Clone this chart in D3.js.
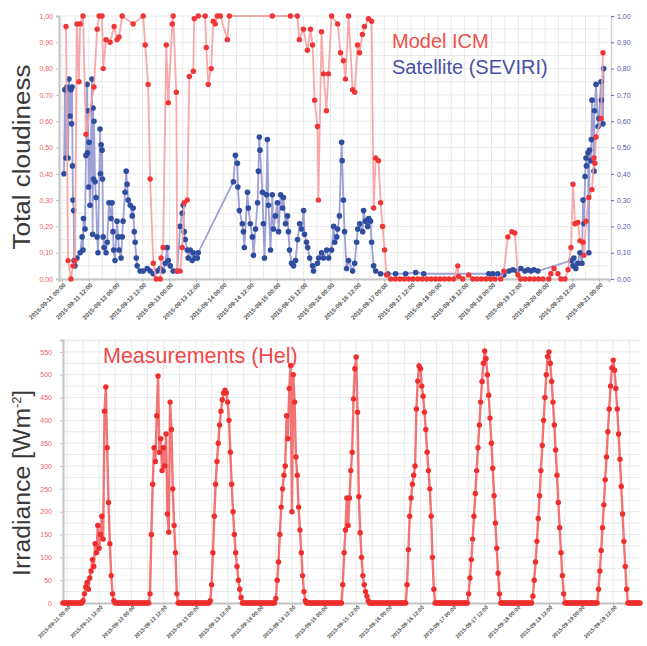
<!DOCTYPE html>
<html><head><meta charset="utf-8">
<script src="https://cdn.jsdelivr.net/npm/d3@7"></script>
<style>
body{margin:0;background:#fff}
svg{display:block}
text{font-family:"Liberation Sans",Arial,Helvetica,sans-serif}
</style>
</head><body>
<svg id="c" width="647" height="646"></svg>
<script>
// ---------- DATA ----------
// Top chart: hours after 2015-09-11 00:00 UTC, total cloudiness
const icmModel = [[1.8,.96],[2.7,.07],[4.0,0],[4.9,.05],[5.8,.07],[6.7,.97],[7.6,.75],[8.1,.97],[9.4,1],[10.7,.55],[14.3,.73],[15.7,.95],[16.6,1],[17.9,1],[18.4,.80],[19.7,.91],[21.5,.90],[23.3,.96],[24.6,.91],[25.5,.92],[26.9,1],[31.8,.97],[36.3,1],[37.2,.89],[38.5,.74],[39.4,.38],[40.8,.06],[42.1,0],[43.9,0],[44.3,.08],[45.2,.12],[46.6,.89],[47.5,.67],[49.3,.97],[49.7,1],[51.1,.71],[51.5,.03],[52.8,.03],[53.7,.12],[54.6,.29],[56.0,.30],[56.9,.77],[58.7,.79],[59.1,.99],[60.9,1],[64.0,1],[64.5,.88],[65.4,.74],[66.7,.80],[67.6,.98],[68.5,.97],[69.4,1],[70.8,1],[73.9,.91],[74.8,1],[94.0,1],[102.1,1],[105.2,1],[106.1,.91],[107.9,.95],[109.7,.87],[111.1,.95],[112.0,.89],[112.9,.68],[114.2,.58],[114.6,.30],[116.0,.94],[116.9,.78],[118.2,.64],[119.1,.78],[120.5,1],[123.2,.97],[124.5,.86],[125.8,.83],[126.7,.76],[128.1,1],[129.9,.72],[130.8,.71],[132.1,.89],[133.0,.86],[134.3,.93],[135.2,.96],[137.0,.99],[138.4,.98],[139.3,.27],[140.2,.46],[141.5,.45],[142.4,.29],[143.3,.20],[144.2,.11],[145.1,.015],[146.9,0],[149,0],[151,0],[153,0],[155,0],[157,0],[159,0],[161,0],[163,0],[165,0],[167,0],[169,0],[171,0],[173,0],[175.1,0],[176.9,.05],[177.3,.01],[179.1,0],[181.8,.015],[183.6,0],[185.5,0],[187.5,0],[189.5,0],[191.5,0],[193.5,0],[196.1,0],[197.5,.03],[199.3,.16],[201.1,.18],[202.4,.175],[203.8,.015],[205.1,0],[207,0],[209,0],[211,0],[213,0],[215,0],[217.6,0],[218.5,.02],[219.9,.04],[221.7,.02],[223.0,0],[224.8,0],[226.2,.035],[227.5,.12],[228.4,.36],[229.3,.21],[230.6,.215],[231.5,.145],[232.9,.14],[233.3,.09],[234.2,.22],[235.5,.31],[236.9,.34],[237.8,.46],[238.2,.44],[238.7,.54],[240.9,.61],[241.8,.86]];

const seviri = [[0.9,.40],[1.3,.72],[1.8,.46],[2.2,.73],[2.7,.46],[3.1,.76],[3.6,.62],[4.0,.72],[4.3,.59],[4.5,.73],[4.7,.43],[4.9,.30],[5.2,.26],[5.4,.07],[5.8,.05],[6.7,.08],[8.1,.10],[9.0,.16],[9.4,.11],[9.6,.23],[10.3,.19],[10.7,.47],[11.2,.74],[11.4,.48],[11.6,.64],[11.9,.35],[12.1,.52],[12.5,.28],[13.4,.76],[13.7,.17],[13.9,.65],[14.1,.38],[14.3,.60],[14.8,.37],[15.2,.31],[15.7,.16],[16.1,.10],[17.0,.57],[17.2,.40],[17.5,.51],[17.9,.49],[18.1,.38],[18.4,.16],[18.8,.12],[19.7,.10],[20.2,.14],[21.0,.29],[21.9,.23],[22.4,.29],[22.8,.18],[23.1,.11],[23.7,.07],[24.6,.22],[25.1,.16],[25.5,.11],[26.4,.08],[26.9,.16],[27.3,.22],[28.2,.33],[28.7,.41],[29.1,.36],[29.6,.30],[30.5,.28],[31.4,.24],[31.8,.27],[32.3,.18],[32.7,.14],[33.2,.08],[33.6,.05],[34.9,.03],[36.3,.03],[38.1,.04],[39.4,.03],[40.8,.02],[42.6,.03],[43.9,.04],[45.2,.03],[46.1,.06],[47.0,.12],[47.5,.07],[48.4,.05],[49.7,.03],[51.5,.03],[52.8,.20],[53.7,.25],[54.2,.28],[54.6,.18],[55.1,.15],[56.0,.11],[56.4,.08],[57.3,.11],[58.2,.07],[58.7,.10],[59.6,.08],[60.5,.08],[60.9,.10],
[76.6,.37],[77.5,.47],[78.4,.44],[78.6,.35],[79.3,.26],[80.6,.21],[81.1,.18],[81.5,.12],[82.9,.33],[83.3,.27],[84.2,.21],[85.1,.16],[85.6,.09],[86.5,.19],[87.4,.29],[87.8,.41],[88.2,.54],[88.5,.49],[89.6,.33],[90.0,.21],[90.5,.08],[91.4,.32],[91.8,.53],[92.3,.28],[93.2,.11],[94.0,.32],[94.5,.19],[95.4,.24],[96.3,.29],[96.8,.18],[97.7,.32],[98.6,.27],[99.0,.31],[99.9,.21],[100.8,.24],[101.2,.18],[101.7,.11],[102.6,.06],[103.5,.05],[104.4,.07],[105.3,.15],[106.2,.21],[107.1,.19],[108.0,.26],[108.4,.17],[109.3,.14],[109.8,.12],[110.7,.08],[112.0,.05],[112.4,.03],[114.2,.06],[114.7,.08],[116.0,.10],[116.9,.08],[118.3,.11],[119.2,.08],[120.5,.11],[121.4,.20],[121.9,.14],[122.8,.16],[123.2,.19],[124.0,.24],[125.0,.52],[125.2,.45],[125.8,.30],[126.3,.18],[127.2,.04],[128.1,.07],[129.9,.03],[130.8,.06],[131.7,.14],[132.2,.19],[133.1,.21],[134.4,.18],[134.8,.26],[135.7,.22],[136.6,.20],[137.1,.23],[137.9,.22],[138.4,.14],[139.3,.05],[140.2,.03],[142.4,.02],[145.6,.02],[149.1,.02],[153.6,.02],[158.1,.025],[161.7,.02],
[190.8,.02],[192.6,.02],[194.8,.02],[197.5,.015],[199.8,.03],[201.5,.035],[203.3,.03],[205.1,.04],[206.9,.03],[208.3,.035],[209.6,.03],[210.9,.035],[212.7,.03],
[227.5,.07],[228.4,.05],[228.8,.08],[229.7,.04],[230.6,.06],[231.5,.10],[232.4,.06],[232.9,.30],[233.3,.21],[233.8,.39],[234.2,.46],[234.4,.43],[235.1,.48],[235.5,.10],[235.8,.49],[236.4,.45],[236.6,.53],[236.9,.68],[237.8,.41],[238.0,.64],[238.7,.74],[239.6,.58],[240.0,.61],[240.9,.75],[241.1,.68],[241.8,.59],[242.1,.80]];

// Bottom chart: irradiance [W m-2] every 30 min, one array per day (from 00:00 UTC)
const irr0910 = [0,0,0]; // from 22:30
const irr0911 = [0,0,0,0,0,0,0,0,0,0,0,0, 5,20,35,45,30,55,70,95,80,130,110,170,120,150,190,140,420,473,340,220,130,60,20,5, 0,0,0,0,0,0,0,0,0,0,0,0];
const irr0912 = [0,0,0,0,0,0,0,0,0,0,0,0,0,0, 20,150,260,340,310,410,497,330,360,290,340,300,370,195,155,440,380,250,170,110,20,0, 0,0,0,0,0,0,0,0,0,0,0,0];
const irr0913 = [0,0,0,0,0,0,0,0,0,0,0, 5,40,110,190,260,310,350,390,420,445,460,466,460,440,400,330,260,200,150,110,80,50,30,12,0, 0,0,0,0,0,0,0,0,0,0,0,0];
const irr0914 = [0,0,0,0,0,0,0,0,0,0,0,0, 10,50,90,150,210,250,280,300,410,360,470,520,200,500,440,320,280,210,160,110,60,25,5,0, 0,0,0,0,0,0,0,0,0,0,0,0];
const irr0915 = [0,0,0,0,0,0,0,0,0,0,0,0,0, 0,40,110,160,230,170,230,290,330,447,513,539,418,233,154,100,60,40,25,15,5,0, 0,0,0,0,0,0,0,0,0,0,0,0,0];
const irr0916 = [0,0,0,0,0,0,0,0,0,0,0,0,0, 0,40,117,190,230,260,280,300,425,486,519,513,475,453,418,380,330,290,250,190,100,30,0, 0,0,0,0,0,0,0,0,0,0,0,0];
const irr0917 = [0,0,0,0,0,0,0,0,0,0,0, 0,20,55,95,140,190,240,290,340,390,440,485,525,552,535,500,455,405,350,295,235,175,120,65,20,0, 0,0,0,0,0,0,0,0,0,0,0];
const irr0918 = [0,0,0,0,0,0,0,0,0,0,0, 0,15,50,90,135,185,235,290,345,400,450,500,540,550,525,485,440,390,335,280,220,165,110,60,20,0, 0,0,0,0,0,0,0,0,0,0,0];
const irr0919 = [0,0,0,0,0,0,0,0,0,0,0,0, 0,30,70,115,165,215,270,320,375,425,475,515,532,510,470,425,370,315,255,195,135,80,30,0, 0,0,0,0,0,0,0,0,0,0,0,0];

const cloudTicks = [0,0.1,0.2,0.3,0.4,0.5,0.6,0.7,0.8,0.9,1.0];
const irrTicks = [0,50,100,150,200,250,300,350,400,450,500,550];
const legendTop = ["Model ICM", "Satellite (SEVIRI)"];
const legendBottom = "Measurements (Hel)";

// ---------- BUILD ----------
const H = 3600e3;
const t0 = Date.UTC(2015,8,11,0,0);
const toDate = h => new Date(t0 + h*H);
const svg = d3.select("#c");

const RED = "#ef3535", RED_L = "#f6a0a0", BLUE = "#2f4c9f", BLUE_L = "#8c91cf";
const fmtComma = d => d3.format(".2f")(d).replace(".", ",");
const fmtDate = d3.utcFormat("%Y-%m-%d %H:%M");

// ===== TOP CHART =====
const tTop = {l:59, r:609, t:16, b:279};
const xTop = d3.scaleUtc().domain([toDate(-1.34), toDate(244.5)]).range([tTop.l, tTop.r]);
const yTop = d3.scaleLinear().domain([0,1]).range([tTop.b, tTop.t]);

const gT = svg.append("g");
gT.append("g").selectAll("line").data(d3.range(0,1.0001,0.05)).join("line")
  .attr("x1",tTop.l).attr("x2",tTop.r).attr("y1",d=>yTop(d)).attr("y2",d=>yTop(d))
  .attr("stroke","#e9e9e9").attr("stroke-width",1);
gT.append("g").selectAll("line").data(d3.utcHour.every(6).range(toDate(0), toDate(244.6))).join("line")
  .attr("x1",d=>xTop(d)).attr("x2",d=>xTop(d)).attr("y1",tTop.t).attr("y2",tTop.b)
  .attr("stroke","#e9e9e9").attr("stroke-width",1);

const axL = gT.append("g").attr("transform",`translate(${tTop.l},0)`)
  .call(d3.axisLeft(yTop).tickValues(cloudTicks).tickFormat(fmtComma).tickSize(3));
axL.select(".domain").attr("stroke","#c4c4c4").attr("stroke-width",2);
axL.selectAll(".tick line").attr("stroke","#c4c4c4");
axL.selectAll("text").attr("fill","#f06060").attr("font-size",7).attr("x",-6);

const axR = gT.append("g").attr("transform",`translate(${tTop.r+2},0)`)
  .call(d3.axisRight(yTop).tickValues(cloudTicks).tickFormat(fmtComma).tickSize(3));
axR.select(".domain").attr("stroke","#d0d0d0").attr("stroke-width",1.5);
axR.selectAll(".tick line").attr("stroke","#6068b0");
axR.selectAll("text").attr("fill","#5058a8").attr("font-size",7).attr("x",6);

const axB = gT.append("g").attr("transform",`translate(0,${tTop.b})`)
  .call(d3.axisBottom(xTop).tickValues(d3.utcHour.every(12).range(toDate(0), toDate(240.1))).tickFormat(fmtDate).tickSize(3));
axB.select(".domain").attr("stroke","#c4c4c4").attr("stroke-width",2);
axB.selectAll(".tick line").attr("stroke","#bbb");
axB.selectAll("text").attr("fill","#555").attr("font-size",6.2).attr("font-weight","bold")
  .attr("x",-2).attr("y",5).attr("dy","0.35em").attr("text-anchor","end").attr("transform","rotate(-45)");

const lineT = d3.line().x(d=>xTop(toDate(d[0]))).y(d=>yTop(d[1]));
gT.append("path").datum(seviri).attr("d",lineT).attr("fill","none").attr("stroke",BLUE_L).attr("stroke-width",1.8).attr("stroke-opacity",0.85);
gT.append("g").selectAll("circle").data(seviri).join("circle")
  .attr("cx",d=>xTop(toDate(d[0]))).attr("cy",d=>yTop(d[1])).attr("r",2.8).attr("fill",BLUE);
gT.append("path").datum(icmModel).attr("d",lineT).attr("fill","none").attr("stroke",RED_L).attr("stroke-width",1.8).attr("stroke-opacity",0.9);
gT.append("g").selectAll("circle").data(icmModel).join("circle")
  .attr("cx",d=>xTop(toDate(d[0]))).attr("cy",d=>yTop(d[1])).attr("r",2.7).attr("fill",RED);

gT.append("text").attr("x",392).attr("y",48).attr("font-size",20).attr("fill","#f05048").text(legendTop[0]);
gT.append("text").attr("x",392).attr("y",74).attr("font-size",20).attr("fill","#4a50a6").text(legendTop[1]);
gT.append("text").attr("transform","translate(30,157) rotate(-90)").attr("text-anchor","middle")
  .attr("font-size",23).attr("fill","#3a3a3a").attr("textLength",185).attr("lengthAdjust","spacingAndGlyphs")
  .text("Total cloudiness");

// ===== BOTTOM CHART =====
const bB = {l:63, r:640, t:340, b:603};
const xBot = d3.scaleUtc().domain([toDate(-1.5), toDate(214)]).range([bB.l, bB.r]);
const yBot = d3.scaleLinear().domain([0,576]).range([bB.b, bB.t]);

const irrDays = [[-1.5, irr0910],[0,irr0911],[24,irr0912],[48,irr0913],[72,irr0914],[96,irr0915],[120,irr0916],[144,irr0917],[168,irr0918],[192,irr0919]];
const irrPts = irrDays.flatMap(([h0,arr]) => arr.map((v,i)=>[h0+i*0.5, v])).filter(d=>d[0]<=214);

const gB = svg.append("g");
gB.append("g").selectAll("line").data(d3.range(0,576,25)).join("line")
  .attr("x1",bB.l).attr("x2",bB.r).attr("y1",d=>yBot(d)).attr("y2",d=>yBot(d))
  .attr("stroke","#e9e9e9");
gB.append("line").attr("x1",bB.l).attr("x2",bB.r).attr("y1",bB.t).attr("y2",bB.t).attr("stroke","#e9e9e9");
gB.append("g").selectAll("line").data(d3.utcHour.every(6).range(toDate(0), toDate(214))).join("line")
  .attr("x1",d=>xBot(d)).attr("x2",d=>xBot(d)).attr("y1",bB.t).attr("y2",bB.b)
  .attr("stroke","#e9e9e9");

const axL2 = gB.append("g").attr("transform",`translate(${bB.l},0)`)
  .call(d3.axisLeft(yBot).tickValues(irrTicks).tickSize(3));
axL2.select(".domain").attr("stroke","#c4c4c4").attr("stroke-width",2);
axL2.selectAll(".tick line").attr("stroke","#c4c4c4");
axL2.selectAll("text").attr("fill","#f06060").attr("font-size",7).attr("x",-11);

const axB2 = gB.append("g").attr("transform",`translate(0,${bB.b})`)
  .call(d3.axisBottom(xBot).tickValues(d3.utcHour.every(12).range(toDate(0), toDate(213))).tickFormat(fmtDate).tickSize(3));
axB2.select(".domain").attr("stroke","#c4c4c4").attr("stroke-width",2);
axB2.selectAll(".tick line").attr("stroke","#bbb");
axB2.selectAll("text").attr("fill","#555").attr("font-size",5.5).attr("font-weight","bold")
  .attr("x",-1).attr("y",4).attr("dy","0.35em").attr("text-anchor","end").attr("transform","rotate(-45)");

const lineB = d3.line().x(d=>xBot(toDate(d[0]))).y(d=>yBot(d[1]));
gB.append("path").datum(irrPts).attr("d",lineB).attr("fill","none").attr("stroke","#f27373").attr("stroke-width",2.4);
gB.append("g").selectAll("circle").data(irrPts).join("circle")
  .attr("cx",d=>xBot(toDate(d[0]))).attr("cy",d=>yBot(d[1])).attr("r",2.7).attr("fill","#ee2d2d");

gB.append("text").attr("x",103).attr("y",363).attr("font-size",21.5).attr("fill","#f04848").text(legendBottom);
const yt = gB.append("text").attr("transform","translate(30,483) rotate(-90)").attr("text-anchor","middle")
  .attr("font-size",23).attr("fill","#3a3a3a");
yt.append("tspan").attr("textLength",168).attr("lengthAdjust","spacingAndGlyphs").text("Irradiance [Wm");
yt.append("tspan").attr("font-size",13).attr("dy",-9).text("-2");
yt.append("tspan").attr("dy",9).text("]");
</script>
</body></html>
